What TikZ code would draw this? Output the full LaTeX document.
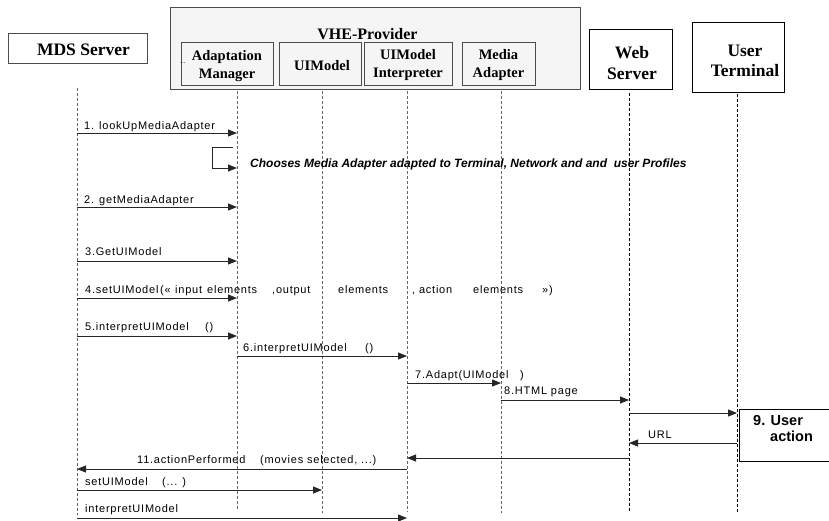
\documentclass[tikz,border=0pt]{standalone}
\usepackage{fontspec}
\setmainfont{Liberation Serif}
\setsansfont{Liberation Sans}
\newfontfamily\labfont[LetterSpace=7]{Liberation Sans}
\usetikzlibrary{arrows.meta}
\begin{document}
\begin{tikzpicture}[x=1pt,y=-1pt,
  objbox/.style={draw=#1, line width=0.9pt, fill=white, inner sep=0pt},
  bigtxt/.style={inner sep=0pt, align=center, font=\fontsize{17.5}{20.5}\selectfont\bfseries},
  smalltxt/.style={inner sep=0pt, align=center, font=\fontsize{14.5}{17.5}\selectfont\bfseries},
  life/.style={draw=#1, line width=0.8pt, dash pattern=on 3pt off 2pt},
  msg/.style={draw=black!85, line width=0.85pt, -{Triangle[length=9pt,width=7pt]}},
  lab/.style={anchor=base west, inner sep=0pt, font=\labfont\fontsize{11}{13}\selectfont},
]
\useasboundingbox (0,0) rectangle (829,520);

% containers and objects
\node[objbox=black!70, fill=black!4, minimum width=410pt, minimum height=82pt] (vhe) at (375,48) {};
\node[anchor=base, inner sep=0pt, font=\fontsize{16}{18}\selectfont\bfseries] (vhet) at (367.5,39) {VHE-Provider};

\node[objbox=black!70, minimum width=139pt, minimum height=30pt] (mds) at (77.5,48) {};
\node[bigtxt, anchor=base] (mdst) at (83.5,55) {MDS Server};

\node[objbox=black!70, minimum width=92pt, minimum height=43pt, fill=black!4] (am) at (227,63.5) {};
\node[smalltxt] (amt) at (227,66) {Adaptation\\Manager};
\node[anchor=base, inner sep=0pt, font=\fontsize{7}{8}\selectfont] (dots) at (183,63) {...};

\node[objbox=black!70, minimum width=82pt, minimum height=43pt, fill=black!4] (uim) at (320,63.5) {};
\node[smalltxt, anchor=base] (uimt) at (322,70) {UIModel};

\node[objbox=black!70, minimum width=88pt, minimum height=43pt, fill=black!4] (uii) at (408,63.5) {};
\node[smalltxt] (uiit) at (408,65) {UIModel\\Interpreter};

\node[objbox=black!70, minimum width=73pt, minimum height=43pt, fill=black!4] (ma) at (498.5,63.5) {};
\node[smalltxt] (mat) at (498.5,65) {Media\\Adapter};

\node[objbox=black, minimum width=83pt, minimum height=60pt] (web) at (630.5,59) {};
\node[bigtxt] (webt) at (632,63) {Web\\Server};

\node[objbox=black, minimum width=92pt, minimum height=70pt] (ut) at (738,57) {};
\node[bigtxt] (utt) at (745,61) {User\\Terminal};

% lifelines
\coordinate (t1) at (77,88);  \coordinate (b1) at (77,515);
\coordinate (t2) at (237,91); \coordinate (b2) at (237,510);
\coordinate (t3) at (322,91); \coordinate (b3) at (322,513);
\coordinate (t4) at (407,91); \coordinate (b4) at (407,512);
\coordinate (t5) at (501,91); \coordinate (b5) at (501,513);
\coordinate (t6) at (629,93); \coordinate (b6) at (629,512);
\coordinate (t7) at (737,94); \coordinate (b7) at (737,512);
\draw[life=black!60] (t1) -- (b1);
\draw[life=black!60] (t2) -- (b2);
\draw[life=black!60] (t3) -- (b3);
\draw[life=black!60] (t4) -- (b4);
\draw[life=black!60] (t5) -- (b5);
\draw[life=black] (t6) -- (b6);
\draw[life=black] (t7) -- (b7);

% messages
\draw[msg] (t1 |- 0,133) -- (t2 |- 0,133);
\node[lab] (l1) at (84,129) {1. lookUpMediaAdapter};

\draw[msg] ([xshift=-4pt]t2 |- 0,147) -- (212,147) -- (212,168) -- (t2 |- 0,168);
\node[anchor=base west, inner sep=0pt, font=\sffamily\bfseries\itshape\fontsize{12}{14}\selectfont] (l1b) at (250,167) {Chooses Media Adapter adapted to Terminal, Network and and\ \ user Profiles};

\draw[msg] (t1 |- 0,207) -- (t2 |- 0,207);
\node[lab] (l2) at (84,203) {2. getMediaAdapter};

\draw[msg] (t1 |- 0,261) -- (t2 |- 0,261);
\node[lab] (l3) at (85,255) {3.GetUIModel};

\draw[msg] (t1 |- 0,298) -- (t2 |- 0,298);
\node[lab] (l4) at (85,293) {\makebox[75pt][l]{4.setUIModel}\makebox[15pt][l]{(«}\makebox[32pt][l]{input}\makebox[65pt][l]{elements}\makebox[66pt][l]{,output}\makebox[74pt][l]{elements}\makebox[61pt][l]{, action}\makebox[69pt][l]{elements}»)};

\draw[msg] (t1 |- 0,336) -- (t2 |- 0,336);
\node[lab] (l5) at (85,330) {\makebox[120pt][l]{5.interpretUIModel}()};

\draw[msg] (t2 |- 0,356) -- (t4 |- 0,356);
\node[lab] (l6) at (243,351) {\makebox[122pt][l]{6.interpretUIModel}()};

\draw[msg] (t4 |- 0,383) -- (t5 |- 0,383);
\node[lab] (l7) at (415,378) {\makebox[103pt][l]{7.Adapt(UIModel}\,)};

\draw[msg] (t5 |- 0,400) -- (t6 |- 0,400);
\node[lab] (l8) at (504,394) {8.HTML page};

\draw[msg] (t6 |- 0,413) -- (t7 |- 0,413);

\draw[line width=1pt] (840,409) -- (739,409) -- (739,461) -- (840,461);
\node[anchor=base west, inner sep=0pt, align=left, font=\sffamily\bfseries\fontsize{14.5}{16}\selectfont] (l9) at (753,441) {9. User\\\hspace*{17pt}action};

\draw[msg] (t7 |- 0,443) -- (t6 |- 0,443);
\node[lab] (lurl) at (648,438) {URL};

\draw[msg] (t6 |- 0,458) -- (t4 |- 0,458);

\draw[msg] (t4 |- 0,469) -- (t1 |- 0,469);
\node[lab] (l11) at (137,463) {\makebox[123pt][l]{11.actionPerformed}(movies selected, ...)};

\draw[msg] (t1 |- 0,490) -- (t3 |- 0,490);
\node[lab] (l12) at (85,485) {\makebox[77pt][l]{setUIModel}(... )};

\draw[msg] (t1 |- 0,518) -- (t4 |- 0,518);
\node[lab] (l13) at (85,512) {interpretUIModel};
\end{tikzpicture}
\end{document}
